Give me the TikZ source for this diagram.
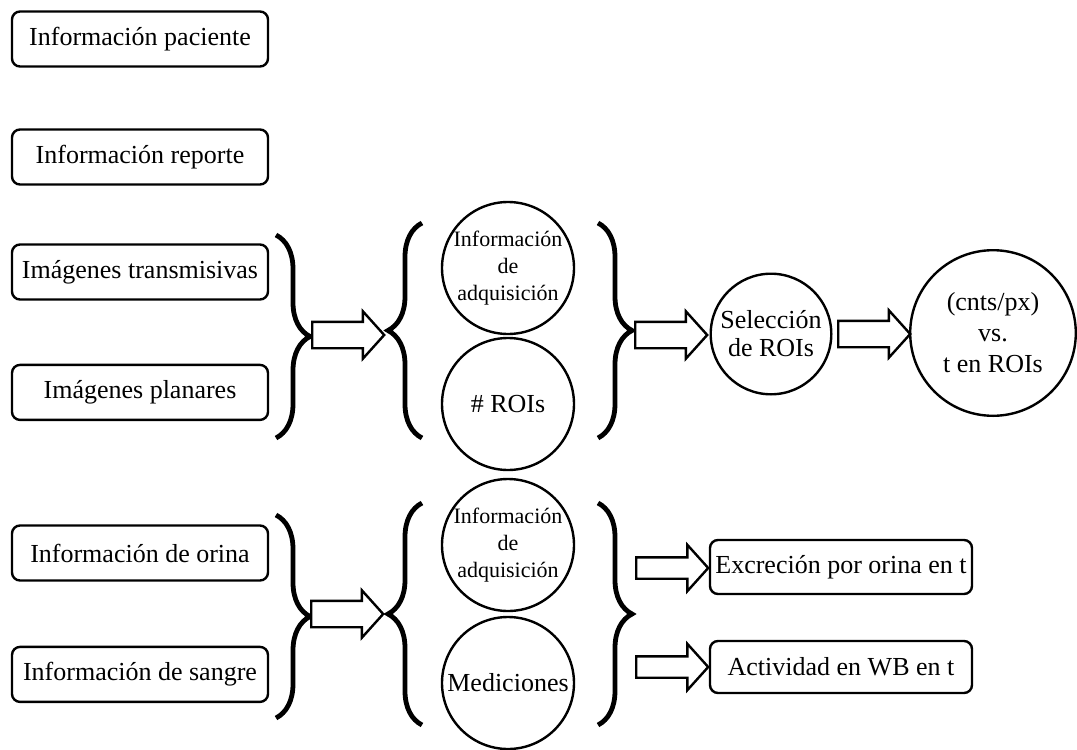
\documentclass[tikz,border=0pt]{standalone}
\usepackage{fontspec}
\setmainfont{Liberation Serif}
\usetikzlibrary{shapes.arrows, decorations.pathreplacing, positioning}

\begin{document}
\begin{tikzpicture}[
  x=0.5pt, y=-0.5pt,
  infobox/.style={rectangle, rounded corners=4pt, draw, line width=1.2pt, minimum width=#1, minimum height=27.5pt, inner sep=2pt, font=\fontsize{13}{15.5}\selectfont},
  infobox/.default=128pt,
  datacirc/.style={circle, draw, line width=1.2pt, minimum size=#1, inner sep=0pt, align=center, font=\fontsize{13}{15.5}\selectfont},
  smalltext/.style={font=\fontsize{11}{13.5}\selectfont},
  curly/.style={decorate, decoration={brace, amplitude=17pt}, line width=2.4pt},
  fatarrow/.style={single arrow, draw, line width=1.2pt, fill=white, anchor=tail, minimum height=36pt, inner xsep=0pt, inner ysep=6pt, single arrow head extend=5.25pt, single arrow tip angle=96},
  thinshaft/.style={inner ysep=4.75pt, single arrow head extend=6.25pt}
]
  \fill[white] (0,0) rectangle (1077,750);
  \useasboundingbox (0,0) rectangle (1077,750);

  % Left column
  \node[infobox] (pac) at (140,39) {Información paciente};
  \node[infobox] (rep) at (140,157) {Información reporte};
  \node[infobox] (trans) at (140,272) {Imágenes transmisivas};
  \node[infobox, below=31.5pt of trans] (plan) {Imágenes planares};
  \node[infobox] (orina) at (140,553) {Información de orina};
  \node[infobox, below=32pt of orina] (sangre) {Información de sangre};

  % Braces - images branch
  \draw[curly] (276,235) -- (276,438);
  \draw[curly] (422,438) -- (422,223);
  \draw[curly] (598,223) -- (598,438);

  % Braces - urine / blood branch
  \draw[curly] (276,515) -- (276,718);
  \draw[curly] (422,725) -- (422,503);
  \draw[curly] (598,503) -- (598,725);

  % Circles
  \node[datacirc=66pt, smalltext] (adq1) at (508,268) {Información\\de\\adquisición};
  \node[datacirc=66pt] (rois) at (508,404) {\# ROIs};
  \node[datacirc=60.3pt, font=\fontsize{13}{14}\selectfont] (sel) at (771,334) {Selección\\de ROIs};
  \node[datacirc=82.8pt] (cnts) at (993,333) {(cnts/px)\\vs.\\t en ROIs};
  \node[datacirc=66pt, smalltext] (adq2) at (508,545) {Información\\de\\adquisición};
  \node[datacirc=66pt] (medic) at (508,683) {Mediciones};

  % Results
  \node[infobox=131pt, minimum height=27pt] (excr) at (841,567) {Excreción por orina en t};
  \node[infobox=131pt, minimum height=26pt] (activ) at (841,667) {Actividad en WB en t};

  % Block arrows
  \node[fatarrow] (a1) at (311,335) {};
  \node[fatarrow] (a2) at (634,335) {};
  \node[fatarrow] (a3) at (837,334) {};
  \node[fatarrow] (a4) at (310,614) {};
  \node[fatarrow, thinshaft] (a5) at (635,568) {};
  \node[fatarrow, thinshaft] (a6) at (635,667) {};
\end{tikzpicture}
\end{document}
